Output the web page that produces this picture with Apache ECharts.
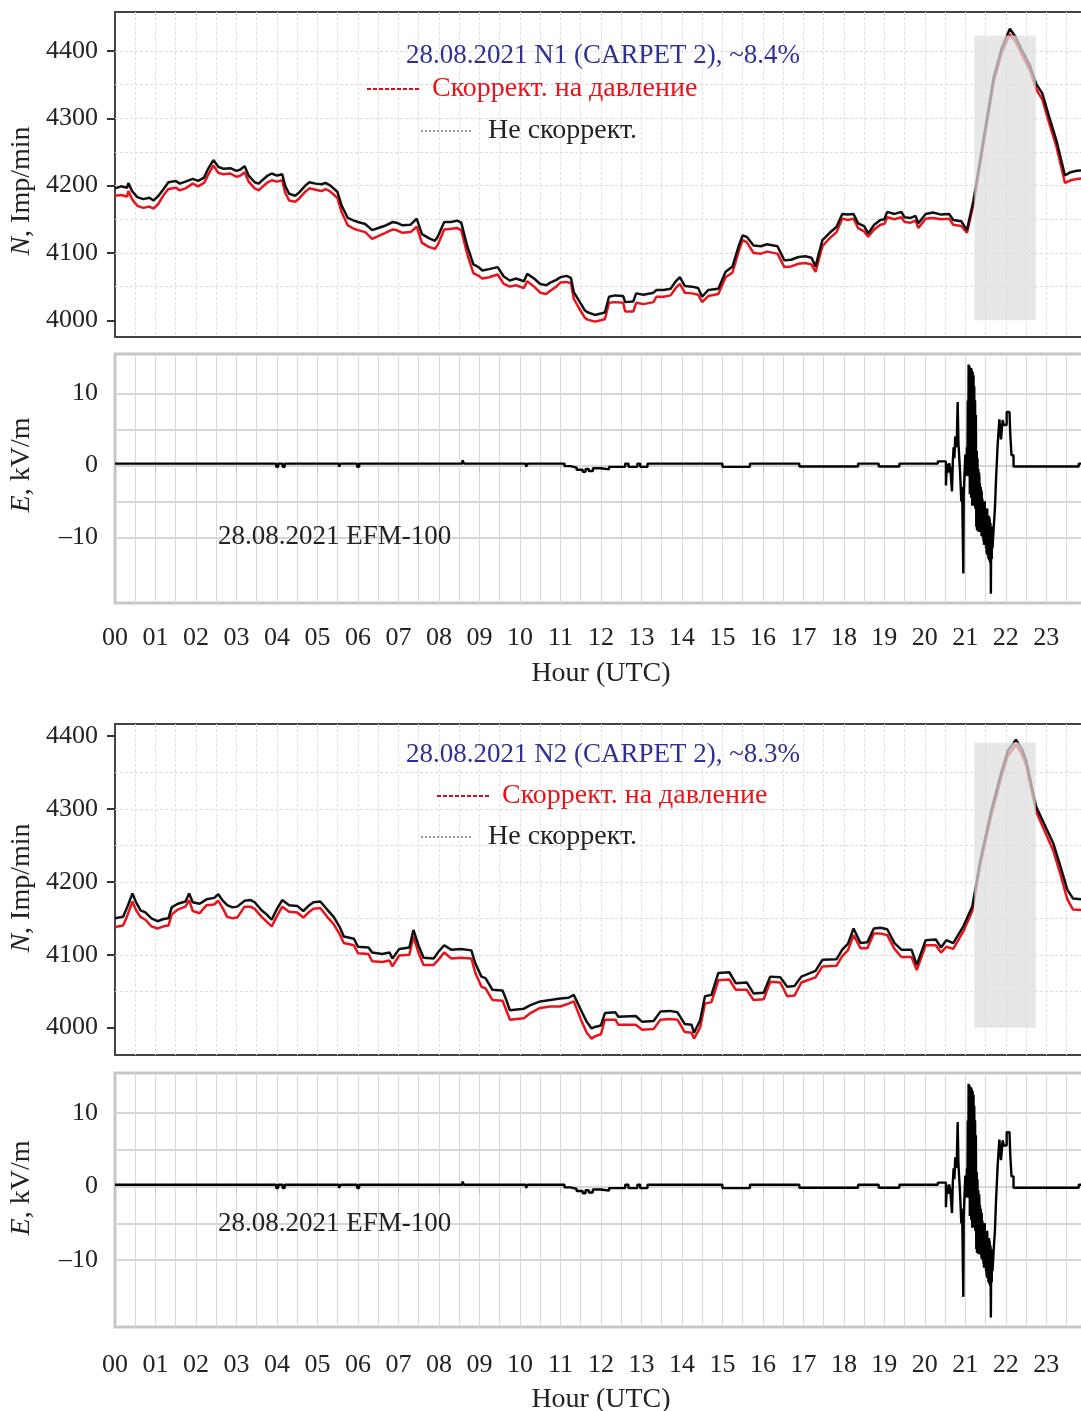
<!DOCTYPE html>
<html><head><meta charset="utf-8">
<script src="https://cdn.jsdelivr.net/npm/echarts@6.0.0/dist/echarts.min.js"></script>
<style>html,body{margin:0;padding:0;background:#fff}#c{width:1081px;height:1411px}</style>
</head><body><div id="c"></div>
<script>
// ---------- DATA ----------
const hourLabels = ['00','01','02','03','04','05','06','07','08','09','10','11','12','13','14','15','16','17','18','19','20','21','22','23'];
const nTickValues = [4000, 4100, 4200, 4300, 4400];
const nGridValues = [4000, 4050, 4100, 4150, 4200, 4250, 4300, 4350, 4400, 4450];
const eTickValues = [-10, 0, 10];
const eGridValues = [-15, -10, -5, 0, 5, 10, 15];

// N1 (CARPET 2) uncorrected (black) and pressure corrected (red): [hour, Imp/min]
const n1Uncorr = [[0,4196],[0.15,4199],[0.3,4197],[0.33,4204],[0.42,4192],[0.55,4183],[0.7,4180],[0.85,4182],[0.95,4178],[1.06,4184],[1.2,4195],[1.32,4205],[1.5,4207],[1.6,4203],[1.74,4206],[1.92,4210],[2.05,4207],[2.2,4212],[2.3,4225],[2.43,4238],[2.55,4228],[2.68,4225],[2.85,4226],[3.0,4222],[3.1,4224],[3.2,4229],[3.3,4215],[3.45,4205],[3.55,4203],[3.62,4207],[3.75,4214],[3.87,4218],[4.0,4215],[4.13,4217],[4.2,4200],[4.3,4188],[4.45,4185],[4.55,4190],[4.7,4200],[4.8,4205],[4.95,4203],[5.1,4202],[5.2,4204],[5.32,4200],[5.49,4191],[5.6,4170],[5.75,4152],[5.9,4148],[6.0,4146],[6.18,4143],[6.35,4134],[6.5,4137],[6.65,4140],[6.86,4146],[6.95,4145],[7.1,4141],[7.3,4142],[7.45,4151],[7.58,4128],[7.75,4122],[7.9,4118],[7.97,4124],[8.13,4146],[8.3,4146],[8.45,4148],[8.55,4145],[8.7,4110],[8.85,4083],[8.98,4079],[9.07,4074],[9.24,4076],[9.45,4079],[9.6,4065],[9.75,4059],[9.9,4062],[10.1,4058],[10.18,4069],[10.35,4062],[10.5,4054],[10.65,4052],[10.75,4056],[10.9,4060],[11.0,4064],[11.15,4066],[11.26,4063],[11.33,4042],[11.45,4030],[11.6,4015],[11.67,4012],[11.85,4008],[12.0,4010],[12.1,4012],[12.2,4035],[12.35,4037],[12.55,4036],[12.6,4027],[12.8,4028],[12.87,4040],[13.05,4038],[13.3,4041],[13.37,4045],[13.55,4045],[13.72,4047],[13.85,4058],[13.95,4064],[14.07,4051],[14.25,4050],[14.4,4048],[14.5,4035],[14.65,4045],[14.9,4047],[15.08,4072],[15.25,4080],[15.4,4110],[15.5,4126],[15.6,4124],[15.77,4111],[15.95,4110],[16.1,4113],[16.36,4110],[16.53,4089],[16.7,4090],[16.88,4094],[17.05,4095],[17.2,4093],[17.3,4080],[17.47,4119],[17.65,4130],[17.82,4139],[17.96,4158],[18.1,4157],[18.24,4158],[18.35,4144],[18.5,4140],[18.6,4129],[18.75,4142],[18.9,4149],[19.0,4150],[19.07,4161],[19.25,4158],[19.42,4161],[19.5,4153],[19.65,4152],[19.77,4155],[19.84,4144],[20.02,4158],[20.2,4160],[20.4,4157],[20.6,4158],[20.7,4149],[20.9,4147],[21.04,4134],[21.2,4178],[21.47,4277],[21.7,4361],[21.9,4405],[22.1,4433],[22.25,4420],[22.4,4401],[22.6,4378],[22.75,4351],[22.9,4337],[23.07,4302],[23.25,4267],[23.46,4215],[23.6,4220],[23.75,4222],[23.93,4223]];
const n1Corr = [[0,4185],[0.15,4186],[0.3,4184],[0.33,4192],[0.42,4180],[0.55,4170],[0.7,4167],[0.85,4169],[0.95,4166],[1.06,4172],[1.2,4186],[1.32,4195],[1.5,4197],[1.6,4193],[1.74,4196],[1.92,4203],[2.05,4199],[2.2,4204],[2.3,4216],[2.43,4230],[2.55,4219],[2.68,4217],[2.85,4218],[3.0,4213],[3.1,4215],[3.2,4220],[3.3,4206],[3.45,4196],[3.55,4193],[3.62,4197],[3.75,4204],[3.87,4208],[4.0,4206],[4.13,4208],[4.2,4190],[4.3,4178],[4.45,4176],[4.55,4181],[4.7,4191],[4.8,4196],[4.95,4194],[5.1,4192],[5.2,4195],[5.32,4191],[5.49,4182],[5.6,4160],[5.75,4141],[5.9,4136],[6.0,4134],[6.18,4131],[6.35,4121],[6.5,4125],[6.65,4129],[6.86,4135],[6.95,4134],[7.1,4130],[7.3,4131],[7.45,4139],[7.58,4115],[7.75,4109],[7.9,4106],[7.97,4112],[8.13,4135],[8.3,4136],[8.45,4137],[8.55,4134],[8.7,4098],[8.85,4070],[8.98,4066],[9.07,4062],[9.24,4064],[9.45,4068],[9.6,4054],[9.75,4050],[9.9,4052],[10.1,4048],[10.18,4058],[10.35,4050],[10.5,4041],[10.65,4039],[10.75,4044],[10.9,4050],[11.0,4056],[11.15,4057],[11.26,4055],[11.33,4032],[11.45,4019],[11.6,4004],[11.67,4001],[11.85,3998],[12.0,4000],[12.1,4002],[12.2,4026],[12.35,4027],[12.55,4026],[12.6,4013],[12.8,4013],[12.87,4026],[13.05,4024],[13.3,4027],[13.37,4035],[13.55,4035],[13.72,4037],[13.85,4048],[13.95,4054],[14.07,4041],[14.25,4040],[14.4,4038],[14.5,4027],[14.65,4036],[14.9,4039],[15.08,4064],[15.25,4071],[15.4,4102],[15.5,4119],[15.6,4116],[15.77,4100],[15.95,4099],[16.1,4102],[16.36,4099],[16.53,4079],[16.7,4080],[16.88,4084],[17.05,4085],[17.2,4083],[17.3,4072],[17.47,4110],[17.65,4122],[17.82,4131],[17.96,4151],[18.1,4149],[18.24,4151],[18.35,4137],[18.5,4132],[18.6,4124],[18.75,4135],[18.9,4142],[19.0,4143],[19.07,4153],[19.25,4150],[19.42,4153],[19.5,4146],[19.65,4145],[19.77,4148],[19.84,4137],[20.02,4151],[20.2,4152],[20.4,4150],[20.6,4151],[20.7,4142],[20.9,4140],[21.04,4130],[21.2,4172],[21.47,4270],[21.7,4354],[21.9,4398],[22.1,4425],[22.25,4413],[22.4,4394],[22.6,4370],[22.75,4343],[22.9,4328],[23.07,4293],[23.25,4258],[23.46,4204],[23.6,4208],[23.75,4210],[23.93,4211]];

// N2 (CARPET 2)
const n2Uncorr = [[0,4150],[0.2,4152],[0.3,4165],[0.43,4184],[0.52,4172],[0.63,4161],[0.75,4158],[0.9,4150],[1.05,4146],[1.2,4149],[1.32,4150],[1.4,4165],[1.55,4170],[1.74,4173],[1.83,4184],[1.92,4172],[2.09,4170],[2.26,4176],[2.45,4178],[2.55,4183],[2.65,4175],[2.77,4168],[2.9,4165],[3.02,4166],[3.2,4174],[3.35,4175],[3.45,4172],[3.62,4161],[3.75,4155],[3.87,4148],[4.0,4163],[4.13,4175],[4.3,4168],[4.5,4167],[4.65,4160],[4.8,4168],[4.9,4172],[5.07,4173],[5.24,4162],[5.4,4152],[5.55,4138],[5.65,4125],[5.9,4122],[6.0,4111],[6.26,4110],[6.35,4103],[6.6,4101],[6.78,4103],[6.85,4095],[7.02,4108],[7.27,4110],[7.37,4134],[7.5,4112],[7.62,4096],[7.87,4095],[8.0,4105],[8.13,4113],[8.3,4107],[8.55,4108],[8.8,4106],[8.9,4088],[9.05,4070],[9.15,4068],[9.32,4052],[9.57,4051],[9.65,4040],[9.75,4024],[10.1,4026],[10.26,4031],[10.5,4036],[10.75,4038],[11.0,4040],[11.2,4041],[11.33,4045],[11.5,4025],[11.65,4008],[11.77,3999],[11.85,4001],[12.0,4003],[12.1,4020],[12.36,4021],[12.43,4015],[12.86,4016],[13.02,4008],[13.3,4009],[13.47,4022],[13.7,4023],[13.89,4021],[14.07,4005],[14.24,4004],[14.3,3993],[14.45,4010],[14.57,4043],[14.73,4045],[14.9,4075],[15.17,4076],[15.33,4061],[15.6,4062],[15.77,4047],[16.02,4048],[16.18,4070],[16.43,4069],[16.6,4056],[16.78,4057],[16.95,4070],[17.3,4078],[17.47,4093],[17.82,4094],[17.96,4107],[18.1,4115],[18.24,4136],[18.41,4116],[18.58,4117],[18.74,4136],[18.9,4137],[19.07,4135],[19.25,4116],[19.42,4107],[19.67,4107],[19.8,4086],[20.02,4120],[20.27,4121],[20.4,4110],[20.53,4120],[20.7,4116],[20.95,4139],[21.17,4166],[21.37,4230],[21.64,4298],[21.9,4353],[22.05,4380],[22.25,4395],[22.4,4382],[22.5,4367],[22.75,4303],[22.9,4285],[23.17,4253],[23.35,4221],[23.52,4189],[23.66,4177],[23.93,4176]];
const n2Corr = [[0,4138],[0.2,4140],[0.3,4153],[0.43,4173],[0.52,4161],[0.63,4152],[0.75,4148],[0.9,4139],[1.05,4136],[1.2,4139],[1.32,4140],[1.4,4155],[1.55,4162],[1.74,4166],[1.83,4175],[1.92,4160],[2.09,4157],[2.26,4168],[2.45,4169],[2.55,4174],[2.65,4165],[2.77,4152],[2.9,4150],[3.02,4151],[3.2,4166],[3.35,4166],[3.45,4163],[3.62,4152],[3.75,4145],[3.87,4139],[4.0,4153],[4.13,4166],[4.3,4159],[4.5,4158],[4.65,4151],[4.8,4159],[4.9,4163],[5.07,4164],[5.24,4152],[5.4,4142],[5.55,4128],[5.65,4116],[5.9,4113],[6.0,4102],[6.26,4101],[6.35,4091],[6.6,4090],[6.78,4092],[6.85,4084],[7.02,4099],[7.27,4100],[7.37,4125],[7.5,4102],[7.62,4086],[7.87,4086],[8.0,4094],[8.13,4103],[8.3,4095],[8.55,4096],[8.8,4095],[8.9,4075],[9.05,4056],[9.15,4054],[9.32,4038],[9.57,4037],[9.65,4026],[9.75,4011],[10.1,4013],[10.26,4020],[10.5,4027],[10.75,4029],[11.0,4029],[11.2,4033],[11.33,4036],[11.5,4012],[11.65,3993],[11.77,3985],[11.85,3988],[12.0,3991],[12.1,4011],[12.36,4011],[12.43,4004],[12.86,4004],[13.02,3997],[13.3,3998],[13.47,4011],[13.7,4012],[13.89,4011],[14.07,3994],[14.24,3993],[14.3,3985],[14.45,4000],[14.57,4033],[14.73,4035],[14.9,4065],[15.17,4066],[15.33,4052],[15.6,4052],[15.77,4038],[16.02,4039],[16.18,4063],[16.43,4062],[16.6,4043],[16.78,4044],[16.95,4062],[17.3,4069],[17.47,4084],[17.82,4085],[17.96,4098],[18.1,4106],[18.24,4127],[18.41,4109],[18.58,4109],[18.74,4129],[18.9,4129],[19.07,4127],[19.25,4108],[19.42,4097],[19.67,4097],[19.8,4079],[20.02,4113],[20.27,4113],[20.4,4103],[20.53,4111],[20.7,4108],[20.95,4132],[21.17,4160],[21.37,4224],[21.64,4291],[21.9,4346],[22.05,4373],[22.25,4388],[22.4,4375],[22.5,4360],[22.75,4296],[22.9,4277],[23.17,4243],[23.35,4210],[23.52,4176],[23.66,4162],[23.93,4161]];

// EFM-100 electric field [hour, kV/m]
const efmField = [[0,0.25],[3.98,-0.2],[4.03,0.25],[4.14,-0.2],[4.19,0.25],[5.53,-0.2],[5.57,0.25],[5.98,-0.2],[6.03,0.25],[8.58,0.7],[8.62,0.25],[10.15,-0.2],[10.19,0.25],[11.1,-0.1],[11.25,-0.3],[11.4,-0.6],[11.55,-0.9],[11.62,-0.5],[11.7,-0.8],[11.8,-0.4],[12.0,-0.55],[12.2,-0.2],[12.6,0.25],[12.68,-0.2],[12.9,0.25],[12.97,-0.2],[13.15,0.25],[15.0,-0.2],[15.68,0.25],[16.9,-0.15],[18.35,0.25],[18.86,-0.15],[19.37,0.25],[20.32,0.55],
[20.52,-2.8],[20.54,-0.3],[20.56,0.2],[20.58,-1.0],[20.6,0.3],[20.63,-0.5],[20.67,-3.6],[20.69,0.5],[20.71,2.5],[20.73,1.0],[20.75,4.0],[20.77,2.5],[20.79,3.8],[20.81,8.8],[20.83,3.0],[20.85,1.0],[20.87,-1.0],[20.9,-5.0],[20.92,-3.0],[20.95,-15],[20.96,-4],[20.98,-1.0],[21.0,1.5],[21.02,-1.5],[21.04,2.5],[21.05,-1.4],
[21.06,9.0],[21.07,-1.4],[21.08,14.0],[21.09,-1.5],[21.10,13.8],[21.11,-4.0],[21.12,13.5],[21.13,-1.5],[21.14,13.5],[21.15,-4.5],[21.16,13.2],[21.17,-5.6],[21.18,13.0],[21.19,-5.0],[21.20,12.5],[21.21,-5.6],[21.22,11.0],[21.23,-4.0],[21.24,9.0],[21.25,-6.0],[21.26,7.0],
[21.27,-8.5],[21.28,2.0],[21.29,-9.0],[21.30,1.0],[21.31,-9.0],[21.32,-0.5],[21.33,-9.2],[21.34,-1.5],[21.35,-8.8],[21.36,-2.5],[21.37,-9.2],[21.38,-3.0],[21.39,-9.0],[21.40,-3.8],[21.41,-9.5],[21.42,-4.6],[21.43,-10.0],
[21.44,-5.0],[21.45,-10.5],[21.46,-5.5],[21.47,-11.0],[21.48,-5.0],[21.49,-10.8],[21.50,-6.0],[21.51,-11.5],[21.52,-6.5],[21.53,-12.0],[21.54,-6.0],[21.55,-12.5],[21.56,-7.0],[21.57,-13.0],[21.58,-7.0],[21.59,-12.8],[21.60,-7.5],[21.61,-13.5],[21.62,-8.0],[21.63,-17.8],[21.64,-8.5],[21.65,-13.0],[21.66,-9.0],[21.67,-11.5],
[21.70,-8.6],[21.73,-6.0],[21.76,-1.6],[21.80,3.1],[21.84,6.4],[21.88,3.6],[21.92,6.3],[21.95,5.6],[21.98,5.6],[22.02,7.4],[22.09,7.4],[22.11,4.2],[22.14,1.4],[22.19,-0.15],[22.45,0.1],[22.48,-0.15],[23.15,0.1],[23.18,-0.15],[23.8,0.25],[23.93,0.25]];

// dense oscillation envelope during the storm: [hourStart, hourEnd, lowKV, highKV]
const efmBurst = [[21.07,21.12,-1.5,13.8],[21.12,21.17,-4.5,13.5],[21.17,21.22,-5.5,12.5],[21.22,21.26,-6.0,9.0],
  [21.26,21.31,-9.0,2.0],[21.31,21.37,-9.2,-1.0],[21.37,21.43,-9.8,-3.5],
  [21.43,21.50,-11.0,-5.0],[21.50,21.56,-12.3,-6.2],[21.56,21.62,-13.2,-7.2],[21.62,21.67,-13.0,-8.5]];

// shaded interval [hourStart, hourEnd, Nlow, Nhigh]
const shadeN1 = [21.22, 22.74, 4000, 4423];
const shadeN2 = [21.22, 22.74, 4000, 4391];

// ---------- CHART ----------
const FONT = '"Liberation Serif", "Times New Roman", serif';
const hourValues = hourLabels.map((s, i) => i);
const XMAX = 23.93;
const gridsPx = [
  {top: 12, height: 325, frame: '#444', bw: 2},
  {top: 354, height: 249, frame: '#c6c6c6', bw: 3},
  {top: 724, height: 331, frame: '#444', bw: 2},
  {top: 1073, height: 254, frame: '#c6c6c6', bw: 3}
];
const yRanges = [[3975.2, 4457.9], [-19.1, 15.46], [3962.5, 4416.5], [-19.1, 15.46]];
const isN = [true, false, true, false];

const grid = gridsPx.map(g => ({left: 115, width: 969, top: g.top, height: g.height, show: true,
  borderColor: g.frame, borderWidth: g.bw, backgroundColor: 'transparent', containLabel: false, outerBoundsMode: 'none'}));

const xAxis = [], yAxis = [];
const labelStyle = {fontFamily: FONT, fontSize: 26, color: '#222'};
gridsPx.forEach((g, gi) => {
  xAxis.push({type: 'value', gridIndex: gi, min: 0, max: XMAX, interval: 0.5,
    axisLine: {show: false}, axisTick: {show: false},
    axisLabel: isN[gi] ? {show: false} : Object.assign({show: true, margin: gi === 1 ? 22 : 25,
      customValues: hourValues, formatter: v => hourLabels[Math.round(v)] || ''}, labelStyle),
    splitLine: {show: true, showMinLine: false, showMaxLine: false,
      lineStyle: {color: isN[gi] ? '#e2e2e2' : '#dadada', width: 1, type: isN[gi] ? [3, 2] : 'solid'}}
  });
  if (!isN[gi]) {
    xAxis.push({type: 'value', gridIndex: gi, min: 0, max: XMAX, position: 'bottom',
      axisLine: {show: false}, axisLabel: {show: false}, splitLine: {show: false},
      axisTick: {show: true, customValues: hourValues, length: 7, lineStyle: {color: '#bdbdbd', width: 1}}});
  }
  const [mn, mx] = yRanges[gi];
  const ticks = isN[gi] ? nTickValues : eTickValues;
  const gridVals = isN[gi] ? nGridValues : eGridValues;
  yAxis.push({type: 'value', gridIndex: gi, min: mn, max: mx, position: 'left',
    axisLine: {show: false},
    axisTick: isN[gi] ? {show: true, customValues: ticks, length: 8, lineStyle: {color: '#333', width: 2}} : {show: false, customValues: ticks},
    axisLabel: Object.assign({show: true, customValues: ticks, margin: 17,
      formatter: v => String(Math.round(v)).replace('-', '\u2013')}, labelStyle),
    splitLine: {show: false}
  });
  yAxis.push({type: 'value', gridIndex: gi, min: mn, max: mx, position: 'right',
    axisLine: {show: false}, axisLabel: {show: false},
    axisTick: {show: false, customValues: gridVals},
    splitLine: {show: true, showMinLine: false, showMaxLine: false,
      lineStyle: isN[gi] ? {color: '#dcdcdc', width: 1, type: [3, 2]} : {color: '#d6d6d6', width: 2}}
  });
});
const xIdx = [0, 1, 3, 4];
const yIdx = [0, 2, 4, 6];

function nLine(data, gi, color, name) {
  return {type: 'line', name, xAxisIndex: xIdx[gi], yAxisIndex: yIdx[gi], data, symbol: 'none',
    lineStyle: {color, width: 2.5}, z: 3, silent: true};
}
function eLine(gi) {
  return {type: 'line', xAxisIndex: xIdx[gi], yAxisIndex: yIdx[gi], data: efmField, symbol: 'none', step: 'end',
    lineStyle: {color: '#000', width: 2.4}, z: 3, silent: true};
}
function boxSeries(gi, data, fill, z) {
  return {type: 'custom', xAxisIndex: xIdx[gi], yAxisIndex: yIdx[gi], z, silent: true, data,
    renderItem: (params, api) => {
      const p0 = api.coord([api.value(0), api.value(3)]);
      const p1 = api.coord([api.value(1), api.value(2)]);
      return {type: 'rect', shape: {x: p0[0], y: p0[1], width: p1[0] - p0[0], height: p1[1] - p0[1]},
        style: {fill}};
    }};
}

const series = [
  nLine(n1Corr, 0, '#e8141c', 'corr1'), nLine(n1Uncorr, 0, '#111111', 'raw1'), boxSeries(0, [shadeN1], 'rgba(222,222,222,0.72)', 10),
  eLine(1), boxSeries(1, efmBurst, '#000', 4),
  nLine(n2Corr, 2, '#e8141c', 'corr2'), nLine(n2Uncorr, 2, '#111111', 'raw2'), boxSeries(2, [shadeN2], 'rgba(222,222,222,0.72)', 10),
  eLine(3), boxSeries(3, efmBurst, '#000', 4)
];

function txt(x, y, text, fill, align, size) {
  return {type: 'text', x, y, z: 100, silent: true,
    style: {text, fill, fontFamily: FONT, fontSize: size || 27, align: align || 'left', verticalAlign: 'middle',
      textAlign: align || 'left', textVerticalAlign: 'middle'}};
}
function seg(x1, x2, y, stroke, dash, w) {
  return {type: 'line', z: 100, silent: true, shape: {x1, y1: y, x2, y2: y}, style: {stroke, lineWidth: w, lineDash: dash}};
}
const yName = (x, y, letter, rest) => ({type: 'text', x, y, rotation: Math.PI / 2, z: 100, silent: true,
  style: {text: '{i|' + letter + '}' + rest, fill: '#222', fontFamily: FONT, fontSize: 28,
    align: 'center', verticalAlign: 'middle', textAlign: 'center', textVerticalAlign: 'middle',
    rich: {i: {fontStyle: 'italic', fontFamily: FONT, fontSize: 28, fill: '#222'}}}});

const graphic = [
  txt(603, 56, '28.08.2021 N1 (CARPET 2), ~8.4%', '#2e3192', 'center', 27),
  seg(367, 419, 89, '#d4101a', [4, 2], 2),
  txt(432, 89, 'Скоррект. на давление', '#e8141c', 'left', 28),
  seg(421, 472, 131, '#777', [2, 2], 1.6),
  txt(488, 131, 'Не скоррект.', '#222', 'left', 28),
  txt(603, 755, '28.08.2021 N2 (CARPET 2), ~8.3%', '#2e3192', 'center', 27),
  seg(437, 489, 796, '#d4101a', [4, 2], 2),
  txt(502, 796, 'Скоррект. на давление', '#e8141c', 'left', 28),
  seg(421, 472, 837, '#777', [2, 2], 1.6),
  txt(488, 837, 'Не скоррект.', '#222', 'left', 28),
  txt(218, 537, '28.08.2021 EFM-100', '#222', 'left', 27),
  txt(218, 1224, '28.08.2021 EFM-100', '#222', 'left', 27),
  txt(601, 674, 'Hour (UTC)', '#222', 'center', 28),
  txt(601, 1400, 'Hour (UTC)', '#222', 'center', 28),
  yName(22, 191, 'N', ', Imp/min'),
  yName(22, 888, 'N', ', Imp/min'),
  yName(22, 465, 'E', ', kV/m'),
  yName(22, 1188, 'E', ', kV/m')
];

const chart = echarts.init(document.getElementById('c'));
chart.setOption({backgroundColor: '#fff', animation: false, grid, xAxis, yAxis, series, graphic});
</script></body></html>
